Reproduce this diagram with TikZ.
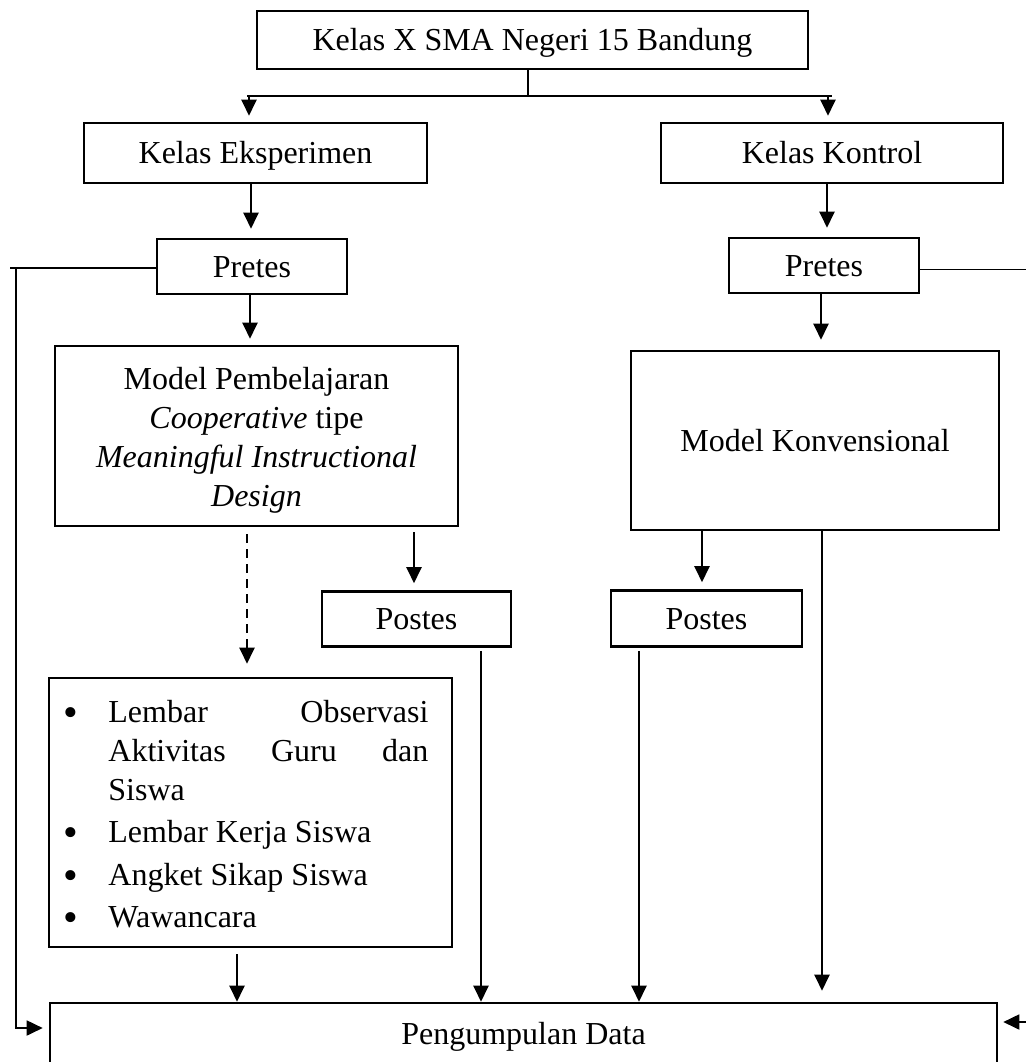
\documentclass[tikz,border=0pt]{standalone}
\usepackage{fontspec}
\setmainfont{Liberation Serif}
\usetikzlibrary{arrows.meta,calc}
\newcommand\mybullet{\raisebox{-2pt}{\fontsize{21}{21}\selectfont\textbullet}}
\newcommand\myitem{\noindent\hangindent=22.5pt\hangafter=1\makebox[22.5pt][l]{\mybullet}}
\begin{document}
\begin{tikzpicture}[x=0.5pt,y=-0.5pt,
  txt/.style={font=\fontsize{16}{19.5}\selectfont},
  box/.style={txt, draw, line width=1.3pt, inner sep=0pt, text height=10.6pt, text depth=0pt},
  multibox/.style={txt, draw, line width=1.3pt, inner sep=0pt, align=center},
  arr/.style={line width=1.15pt, -{Triangle[length=8pt,width=7.5pt]}, shorten >=3.5pt},
  thinline/.style={line width=0.6pt},
  link/.style={line width=0.9pt}
]
\useasboundingbox (0,0) rectangle (1026,1062);
\clip (0,0) rectangle (1026,1062);

% boxes
\node[box, minimum width=275.5pt, minimum height=29pt] (top) at (532.5,40) {Kelas X SMA Negeri 15 Bandung};
\node[box, minimum width=171.5pt, minimum height=30pt] (eks) at (255.5,153) {Kelas Eksperimen};
\node[box, minimum width=171pt, minimum height=30pt] (kon) at (832,153) {Kelas Kontrol};
\node[box, minimum width=95pt, minimum height=27.5pt] (preL) at (252,266.5) {Pretes};
\node[box, minimum width=95pt, minimum height=27.5pt] (preR) at (824,265.5) {Pretes};
\node[multibox, minimum width=201.5pt, minimum height=90pt] (modL) at (256.5,436)
  {\rule{0pt}{15pt}Model Pembelajaran\\\textit{Cooperative} tipe\\\textit{Meaningful Instructional}\\\textit{Design}};
\node[box, minimum width=184pt, minimum height=89.5pt] (modR) at (815,440.5) {Model Konvensional};
\node[box, minimum width=94.5pt, minimum height=27.5pt] (postL) at (416.5,619) {Postes};
\node[box, minimum width=95.5pt, minimum height=28pt] (postR) at (706.5,618.5) {Postes};
\node[draw, line width=1.3pt, minimum width=201.5pt, minimum height=134.5pt, inner sep=0pt] (instr) at (250.5,812.5) {};
\node[txt, anchor=north west, inner sep=0pt, text width=182.5pt, align=justify] (instrtxt) at (63,700)
  {\hyphenpenalty=10000\tolerance=10000%
   \myitem Lembar Observasi\linebreak Aktivitas Guru dan\linebreak Siswa
   \par\vskip1.6pt
   \myitem Lembar Kerja Siswa
   \par\vskip1.6pt
   \myitem Angket Sikap Siswa
   \par\vskip1.6pt
   \myitem Wawancara\par};
\node[box, minimum width=473.5pt, minimum height=31pt] (data) at (523.5,1034) {Pengumpulan Data};

% helper coordinates
\coordinate (stem) at (528,96);
\coordinate (bl) at (247,96);
\coordinate (br) at (832,96);
\coordinate (xEL) at (249,96);
\coordinate (xKR) at (828,96);
\coordinate (xEP) at (251,0);
\coordinate (xKP) at (827,0);
\coordinate (xPM) at (250,0);
\coordinate (xPK) at (821,0);
\coordinate (xMP) at (414,0);
\coordinate (xMD) at (247,0);
\coordinate (xKQ) at (702,0);
\coordinate (xID) at (237,0);
\coordinate (xPLD) at (481,0);
\coordinate (xPRD) at (639,0);
\coordinate (xKD) at (822,0);
\coordinate (lx) at (16,0);
\coordinate (lend) at (10,268);
\coordinate (ly0) at (0,268);
\coordinate (ly) at (0,1028);
\coordinate (rx) at (1045,0);
\coordinate (ry0) at (0,269.5);
\coordinate (ry) at (0,1022);

% connectors
\draw[thinline] (top.south -| stem) -- (stem);
\draw[link] (bl) -- (br);
\draw[arr, shorten >=3pt] (xEL) -- (xEL |- eks.north);
\draw[arr, shorten >=3pt] (xKR) -- (xKR |- kon.north);
\draw[arr, shorten >=4.5pt] (eks.south -| xEP) -- (preL.north -| xEP);
\draw[arr, shorten >=4.5pt] (kon.south -| xKP) -- (preR.north -| xKP);
\draw[arr, shorten >=3pt] (preL.south -| xPM) -- (modL.north -| xPM);
\draw[arr, shorten >=5pt] (preR.south -| xPK) -- (modR.north -| xPK);
\draw[arr, shorten <=2.5pt] (modL.south -| xMP) -- (postL.north -| xMP);
\draw[arr, shorten <=0pt] (modR.south -| xKQ) -- (postR.north -| xKQ);
\draw[arr, dash pattern=on 4.5pt off 3pt, shorten <=3.5pt, shorten >=6.5pt] (modL.south -| xMD) -- (instr.north -| xMD);
\draw[arr, shorten <=3pt, shorten >=0pt] (instr.south -| xID) -- (data.north -| xID);
\draw[arr, shorten <=1.5pt, shorten >=0pt] (postL.south -| xPLD) -- (data.north -| xPLD);
\draw[arr, shorten <=1.5pt, shorten >=0pt] (postR.south -| xPRD) -- (data.north -| xPRD);
\draw[arr, shorten >=5.5pt] (modR.south -| xKD) -- (data.north -| xKD);
\draw[link] (preL.west |- ly0) -- (lend);
\draw[arr, line width=0.9pt, shorten >=3pt] (lx |- ly0) |- (data.west |- ly);
\draw[arr, line width=0.9pt, shorten >=2.5pt] (preR.east |- ry0) -| (rx |- ry) -- (data.east |- ry);
\end{tikzpicture}
\end{document}
